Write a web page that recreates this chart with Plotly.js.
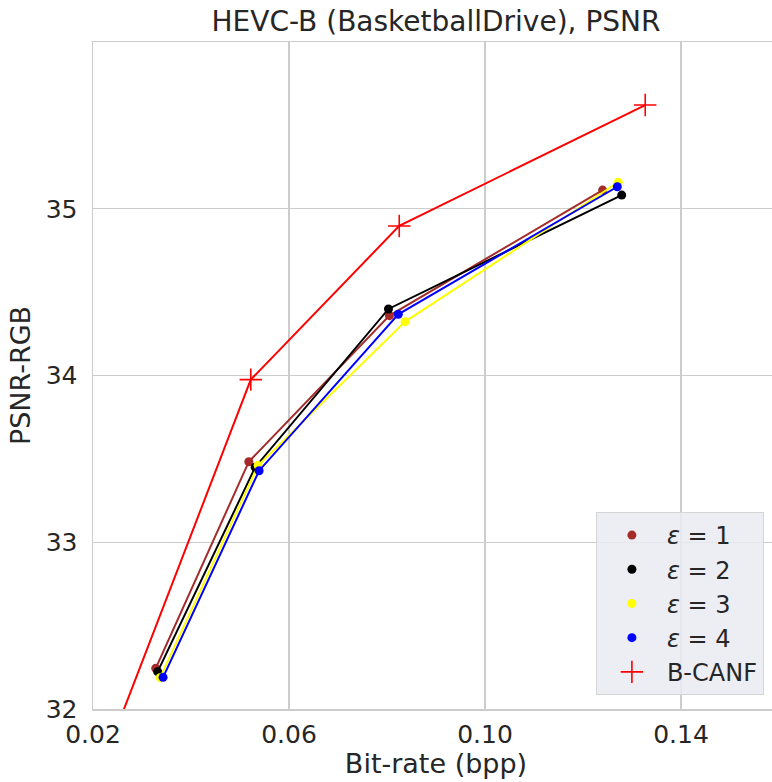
<!DOCTYPE html>
<html><head><meta charset="utf-8">
<script src="https://cdn.plot.ly/plotly-3.0.1.min.js"></script>
<style>html,body{margin:0;padding:0;overflow:hidden;background:#fff}</style>
</head><body><div id="chart" style="width:780px;height:782px"></div>
<script>
const seriesNames = ["<i>ε</i> = 1", "<i>ε</i> = 2", "<i>ε</i> = 3", "<i>ε</i> = 4", "B-CANF"];
const eps1X = [0.0328, 0.0518, 0.0805, 0.1240];
const eps1Y = [32.244, 33.483, 34.359, 35.112];
const eps2X = [0.0332, 0.0531, 0.0803, 0.1279];
const eps2Y = [32.224, 33.450, 34.399, 35.082];
const eps3X = [0.0337, 0.0537, 0.0837, 0.1272];
const eps3Y = [32.188, 33.460, 34.323, 35.159];
const eps4X = [0.0343, 0.0539, 0.0823, 0.1270];
const eps4Y = [32.190, 33.429, 34.367, 35.132];
const bcanfX = [0.0224, 0.0522, 0.0825, 0.1327];
const bcanfY = [31.70, 33.975, 34.897, 35.622];
const xTicks = [0.02, 0.06, 0.10, 0.14];
const xTickText = ["0.02", "0.06", "0.10", "0.14"];
const yTicks = [32, 33, 34, 35];

const colors = ["#a52a2a", "#000000", "#ffff00", "#0000ff", "#ff0000"];
const xs = [eps1X, eps2X, eps3X, eps4X, bcanfX];
const ys = [eps1Y, eps2Y, eps3Y, eps4Y, bcanfY];

function markerFor(i) {
  return i === 4
    ? {symbol: "cross-thin", size: 16, line: {color: colors[i], width: 1.6}, color: colors[i]}
    : {symbol: "circle", size: 9, color: colors[i]};
}
const traces = [];
for (let i = 0; i < 5; i++) {
  traces.push({
    x: xs[i], y: ys[i], type: "scatter", mode: "lines+markers",
    line: {color: colors[i], width: 2}, marker: markerFor(i),
    showlegend: false, hoverinfo: "skip"
  });
}
for (let i = 0; i < 5; i++) {
  traces.push({
    x: [null], y: [null], type: "scatter", mode: "markers", name: seriesNames[i],
    marker: markerFor(i), showlegend: true
  });
}

const font = {family: "DejaVu Sans, sans-serif", color: "#262626"};
const layout = {
  width: 780, height: 782,
  margin: {l: 93, r: 1, t: 42, b: 73},
  paper_bgcolor: "#ffffff", plot_bgcolor: "#ffffff",
  font: Object.assign({size: 20}, font),
  title: {text: "HEVC-B (BasketballDrive), PSNR", font: Object.assign({}, font, {size: 28}), x: 0.5, xref: "paper", y: 0.986, yanchor: "top"},
  xaxis: {
    range: [0.02, 0.16], tickvals: xTicks, ticktext: xTickText,
    showgrid: true, gridcolor: "#cccccc", gridwidth: 1.2,
    zeroline: false, showline: true, linecolor: "#cccccc", linewidth: 1.5, mirror: true,
    ticks: "", tickfont: Object.assign({}, font, {size: 25}), ticklabelstandoff: 2,
    title: {text: "Bit-rate (bpp)", font: Object.assign({}, font, {size: 27}), standoff: 6}
  },
  yaxis: {
    range: [32, 36], tickvals: yTicks,
    showgrid: true, gridcolor: "#cccccc", gridwidth: 1.2,
    zeroline: false, showline: true, linecolor: "#cccccc", linewidth: 1.5, mirror: true,
    ticks: "", tickfont: Object.assign({}, font, {size: 25}), ticklabelstandoff: 9,
    title: {text: "PSNR-RGB", font: Object.assign({}, font, {size: 27}), standoff: 7}
  },
  legend: {
    x: 0.978, y: 0.021, xanchor: "right", yanchor: "bottom",
    bgcolor: "rgba(234,234,242,0.85)", bordercolor: "#d5d5d5", borderwidth: 1,
    font: Object.assign({}, font, {size: 24}), tracegroupgap: 0, itemwidth: 60
  }
};
Plotly.newPlot("chart", traces, layout, {displayModeBar: false, staticPlot: true});
</script></body></html>
